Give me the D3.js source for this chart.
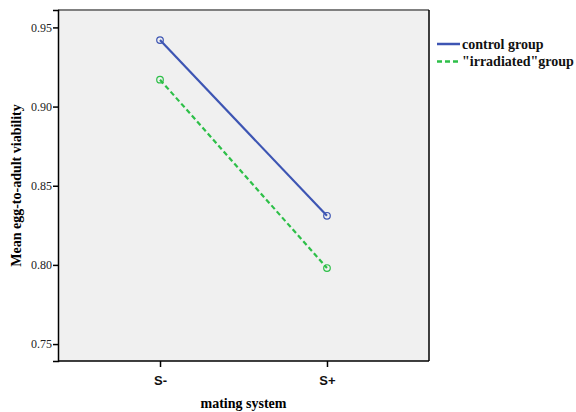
<!DOCTYPE html>
<html><head><meta charset="utf-8">
<script src="https://cdn.jsdelivr.net/npm/d3@7"></script>
<style>body{margin:0;background:#fff}</style>
</head><body><svg id="c" width="576" height="412"></svg>
<script>
const categories = ["S-", "S+"];
const seriesNames = ["control group", "\"irradiated\"group"];
const controlValues = [0.942, 0.831];
const irradiatedValues = [0.917, 0.798];
const yTicks = [0.75, 0.80, 0.85, 0.90, 0.95];

const SERIF = "'Liberation Serif', 'Times New Roman', serif";
const SANS = "'Liberation Sans', Arial, sans-serif";
const svg = d3.select("#c");
const L = 58, R = 429, T = 10, B = 361;
const x = d3.scalePoint().domain(categories).range([L, R]).padding(0.611);
const y = d3.scaleLinear().domain([0.7393, 0.9610]).range([B, T]);

svg.append("rect").attr("x", L).attr("y", T).attr("width", R - L).attr("height", B - T).attr("fill", "#f0f0f0");
svg.append("line").attr("x1", L).attr("x2", R).attr("y1", T).attr("y2", T).attr("stroke", "#808080").attr("stroke-width", 2);
svg.append("line").attr("x1", R).attr("x2", R).attr("y1", T).attr("y2", B).attr("stroke", "#000").attr("stroke-width", 1.5);

const ya = svg.append("g").attr("transform", `translate(${L},0)`)
  .call(d3.axisLeft(y).tickValues(yTicks).tickFormat(d3.format(".2f")).tickSizeOuter(0).tickSize(5));
ya.select(".domain").attr("stroke", "#000").attr("stroke-width", 1.5);
ya.selectAll(".tick line").attr("stroke", "#000").attr("stroke-width", 1.5);
ya.selectAll("text").style("font-family", SERIF).attr("font-size", 12).attr("fill", "#222").attr("x", -6);

const xa = svg.append("g").attr("transform", `translate(0,${B})`)
  .call(d3.axisBottom(x).tickSizeOuter(0).tickSize(6));
xa.select(".domain").attr("stroke", "#000").attr("stroke-width", 1.5).attr("d", `M${L},0H${R}`);
xa.selectAll(".tick line").attr("stroke", "#000").attr("stroke-width", 1.5);
xa.selectAll("text").style("font-family", SANS).attr("font-weight", "bold").attr("font-size", 13).attr("fill", "#111").attr("y", 15);

svg.append("text").style("font-family", SERIF).attr("x", (L + R) / 2).attr("y", 408).attr("text-anchor", "middle")
  .attr("font-weight", "bold").attr("font-size", 14).text("mating system");
svg.append("text").style("font-family", SERIF).attr("transform", `translate(21,${(T + B) / 2}) rotate(-90)`).attr("text-anchor", "middle")
  .attr("font-weight", "bold").attr("font-size", 14).text("Mean egg-to-adult viability");

const series = [
  {name: seriesNames[0], values: controlValues, color: "#3d55b3", dash: null},
  {name: seriesNames[1], values: irradiatedValues, color: "#2dbf48", dash: "5,3"}
];
const line = d3.line().x((d, i) => x(categories[i])).y(d => y(d));
series.forEach(s => {
  svg.append("path").attr("d", line(s.values)).attr("fill", "none").attr("stroke", s.color).attr("stroke-width", 2.2).attr("stroke-dasharray", s.dash);
  svg.selectAll(null).data(s.values).enter().append("circle")
    .attr("cx", (d, i) => x(categories[i])).attr("cy", d => y(d)).attr("r", 3.3)
    .attr("fill", "none").attr("stroke", s.color).attr("stroke-width", 1.2);
});

const lg = svg.append("g");
series.forEach((s, i) => {
  const yy = 44 + i * 17.5;
  lg.append("line").attr("x1", 437).attr("x2", 460).attr("y1", yy).attr("y2", yy).attr("stroke", s.color).attr("stroke-width", 2.5).attr("stroke-dasharray", s.dash ? "5,3" : null);
  lg.append("text").style("font-family", SERIF).attr("x", 462).attr("y", yy + 4.5).attr("font-weight", "bold").attr("font-size", 14).attr("fill", "#111").text(s.name);
});
</script></body></html>
